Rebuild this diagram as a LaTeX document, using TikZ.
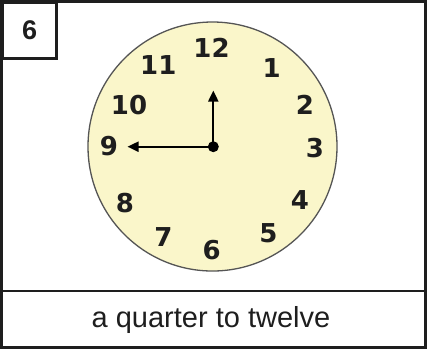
\documentclass[tikz,border=0pt]{standalone}
\usepackage{fontspec}
\setmainfont{Liberation Sans}
\newfontfamily\clockfont{DejaVu Sans}
\usetikzlibrary{arrows.meta}
\definecolor{face}{RGB}{250,246,202}
\definecolor{rim}{RGB}{85,85,85}
\definecolor{ink}{RGB}{30,30,30}
\begin{document}
\begin{tikzpicture}[x=1pt,y=-1pt,
  frame/.style={draw=ink,line width=2.6pt},
  num/.style={font=\clockfont\fontsize{26}{26}\selectfont\bfseries,text=ink,inner sep=0pt},
  hand/.style={line width=2pt,-{Triangle[length=11pt,width=10pt]}}]
\useasboundingbox (0,0) rectangle (427,349);
\draw[frame] (1.3,1.3) rectangle (425.7,347.7);
\draw[frame] (1.3,291) -- (425.7,291);
\node[frame,minimum width=54pt,minimum height=56pt,anchor=north west,inner sep=0pt,
  font=\fontsize{27}{27}\selectfont\bfseries,text=ink] (tag) at (1.3,1.3) {6};
\node[circle,draw=rim,line width=1.3pt,fill=face,minimum size=249pt,inner sep=0pt] (face) at (212.5,146.5) {};
\node[num] (n12) at (211.5,47.5) {12};
\node[num] (n1) at (271.7,68.3) {1};
\node[num] (n2) at (305,105) {2};
\node[num] (n3) at (315,148.3) {3};
\node[num] (n4) at (300,200) {4};
\node[num] (n5) at (268.3,233.3) {5};
\node[num] (n6) at (211.7,250) {6};
\node[num] (n7) at (163.3,236.7) {7};
\node[num] (n8) at (125,202.7) {8};
\node[num] (n9) at (109,146.5) {9};
\node[num] (n10) at (129,105.5) {10};
\node[num] (n11) at (158.3,65) {11};
\coordinate (hourtip) at (213.3,90.5);
\coordinate (mintip) at (127.5,146.7);
\node[circle,fill=black,minimum size=11pt,inner sep=0pt] (c) at (213.3,146.7) {};
\draw[hand] (c.center) -- (hourtip);
\draw[hand] (c.center) -- (mintip);
\node[font=\fontsize{29}{29}\selectfont,text=ink] (cap) at (211,320) {a quarter to twelve};
\end{tikzpicture}
\end{document}
